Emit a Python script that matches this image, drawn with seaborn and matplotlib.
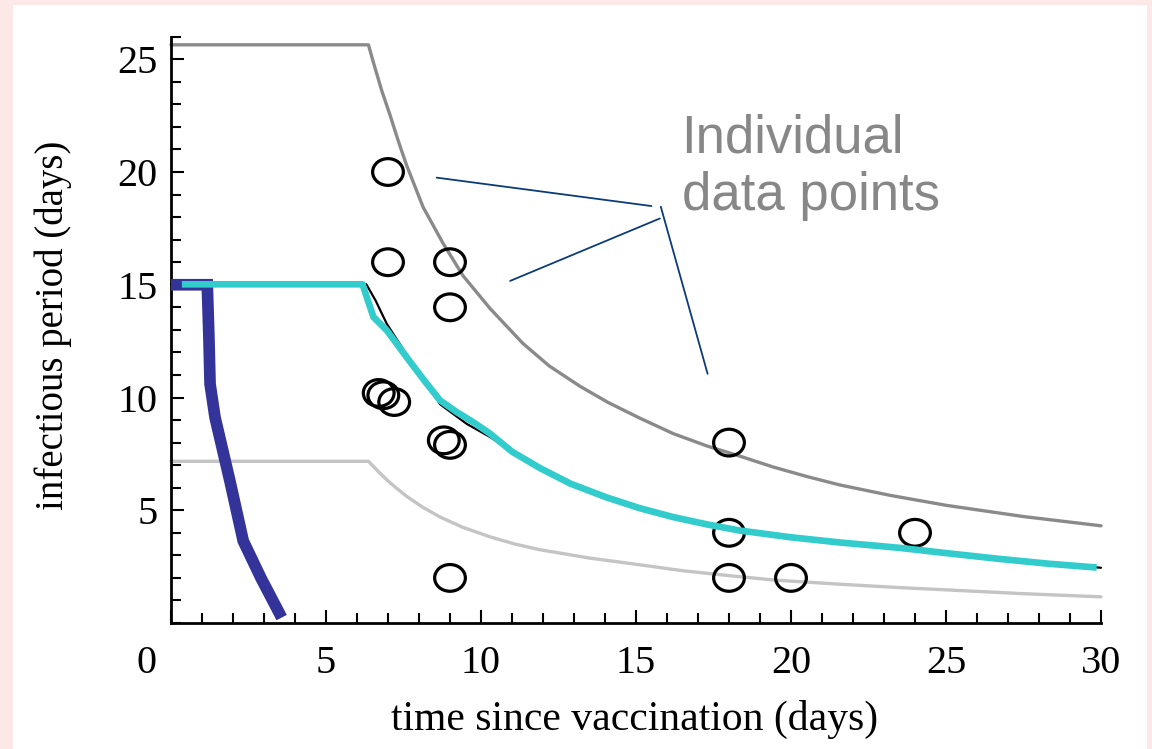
import matplotlib
matplotlib.use("Agg")
import numpy as np
import pandas as pd
import matplotlib.pyplot as plt
import seaborn as sns
from matplotlib.path import Path
from matplotlib.markers import MarkerStyle
from matplotlib.patches import Rectangle
from matplotlib.transforms import offset_copy

# ---------------- data ----------------
upper_x = [0.0, 6.37, 6.52, 6.8, 7.06, 7.35, 7.6, 8.13, 8.77, 9.42, 10.29, 11.35, 12.2, 13.19, 14.1,
           15.13, 16.2, 17.29, 18.35, 19.42, 20.5, 21.58, 23.2, 25.0, 27.5, 30.0]
upper_y = [25.64, 25.64, 24.9, 23.6, 22.55, 21.3, 20.3, 18.45, 16.85, 15.4, 13.95, 12.4, 11.4, 10.5, 9.78,
           9.08, 8.4, 7.85, 7.4, 6.92, 6.5, 6.12, 5.66, 5.22, 4.72, 4.31]

lower_x = [0.0, 6.37, 6.7, 7.0, 7.3, 7.6, 8.1, 8.68, 9.4, 10.29, 11.1, 11.9, 13.5, 15.13, 16.5,
           18.0, 19.5, 21.58, 23.5, 25.0, 27.5, 30.0]
lower_y = [7.17, 7.17, 6.7, 6.3, 5.95, 5.62, 5.15, 4.7, 4.25, 3.82, 3.5, 3.25, 2.88, 2.58, 2.32,
           2.1, 1.9, 1.72, 1.57, 1.47, 1.3, 1.16]

median_x = [0.0, 6.3, 6.6, 6.96, 7.6, 8.2, 8.68, 9.54, 10.29, 11.04, 11.9, 12.9, 14.05, 15.1, 16.19,
            17.3, 18.35, 20.0, 21.58, 23.52, 25.0, 26.74, 28.3, 30.0]
median_y = [15.02, 15.02, 14.3, 13.27, 11.9, 10.75, 9.7, 8.83, 8.25, 7.57, 6.82, 6.13, 5.55, 5.08, 4.68,
            4.35, 4.08, 3.78, 3.55, 3.31, 3.08, 2.84, 2.63, 2.45]

teal_x = [0.35, 6.18, 6.35, 6.53, 6.96, 7.6, 8.2, 8.68, 9.22, 9.7, 10.29, 11.0, 11.9, 12.9, 14.05,
          15.1, 16.19, 17.3, 18.35, 20.0, 21.58, 23.52, 25.0, 26.74, 28.3, 29.86]
teal_y = [15.02, 15.02, 14.3, 13.57, 12.98, 11.79, 10.7, 9.87, 9.35, 8.95, 8.4, 7.6, 6.87, 6.17, 5.57,
          5.1, 4.7, 4.37, 4.1, 3.8, 3.57, 3.33, 3.1, 2.84, 2.63, 2.46]

blue_x = [0.0, 1.17, 1.22, 1.26, 1.42, 1.9, 2.33, 2.9, 3.57]
blue_y = [15.0, 15.0, 12.8, 10.6, 9.12, 6.3, 3.64, 2.0, 0.24]

pts_x = [7, 7, 9, 9, 6.7, 6.85, 7.2, 8.8, 9.0, 9, 18, 18, 18, 20, 24]
pts_y = [20, 16, 16, 14, 10.2, 10.1, 9.8, 8.1, 7.9, 2, 8, 4, 2, 2, 4]

x_major = [0, 5, 10, 15, 20, 25, 30]
x_labels = ["", "5", "10", "15", "20", "25", "30"]
y_major = [5, 10, 15, 20, 25]
y_labels = ["5", "10", "15", "20", "25"]

note_text = "Individual\ndata points"
note_xy = (16.47, 22.6)
pointer_from = [(15.5, 18.49), (15.77, 17.94), (15.8, 18.46)]
pointer_to = [(8.57, 19.75), (10.94, 15.17), (17.31, 11.05)]

# ---------------- styling ----------------
sns.set_theme(style="white")
plt.rcParams["font.family"] = ["Liberation Serif", "DejaVu Serif"]

W, H = 1152, 749
fig = plt.figure(figsize=(W / 100, H / 100), dpi=100, facecolor="#fde8e8")
fig.patches.append(Rectangle((13 / W, 0), (1147 - 13) / W, (H - 5) / H,
                             transform=fig.transFigure, facecolor="white",
                             edgecolor="none", zorder=-10))
ax = fig.add_axes([171 / W, 1 - 623 / H, 930 / W, (623 - 36.7) / H])
ax.set_facecolor("none")

# data points (open, slightly elliptical circles)
circ = Path.unit_circle()
ell = Path(circ.vertices * np.array([1.0, 0.87]), circ.codes)
sns.scatterplot(x=pts_x, y=pts_y, ax=ax, marker=MarkerStyle(ell), s=490,
                facecolor="none", edgecolor="black", linewidth=2.3, zorder=3)

line_kw = dict(ax=ax, sort=False, estimator=None, clip_on=False)
sns.lineplot(x=lower_x, y=lower_y, color="#c4c4c4", linewidth=2.4, zorder=2, **line_kw)
sns.lineplot(x=upper_x, y=upper_y, color="#8a8a8a", linewidth=2.4, zorder=2, **line_kw)
sns.lineplot(x=median_x, y=median_y, color="black", linewidth=1.6, zorder=4, **line_kw)
sns.lineplot(x=blue_x, y=blue_y, color="#333399", linewidth=8.4, zorder=5,
             solid_capstyle="butt", solid_joinstyle="miter", **line_kw)
sns.lineplot(x=teal_x, y=teal_y, color="#33cccc", linewidth=4.8, zorder=6,
             solid_capstyle="butt", **line_kw)

# annotation
for a, b in zip(pointer_from, pointer_to):
    ax.annotate("", xy=b, xytext=a,
                arrowprops=dict(arrowstyle="-", color="#0b3c78", lw=1.3,
                                shrinkA=0, shrinkB=0), zorder=7)
ax.text(note_xy[0], note_xy[1], note_text, ha="left", va="top",
        fontsize=38, color="#878787", family=["Liberation Sans", "DejaVu Sans"],
        linespacing=1.2, zorder=7)

# axes
ax.set_xlim(0, 30)
ax.set_ylim(0, 26)
ax.set_xticks(x_major)
ax.set_xticklabels(x_labels)
ax.set_xticks(range(0, 31), minor=True)
ax.set_yticks(y_major)
ax.set_yticklabels(y_labels)
ax.set_yticks(range(0, 27), minor=True)
ax.tick_params(which="both", direction="in", top=False, right=False,
               bottom=True, left=True, color="black", width=1.5)
ax.tick_params(which="major", length=9.5)
ax.tick_params(which="minor", length=7)
ax.tick_params(axis="x", which="major", pad=16, labelsize=29, labelcolor="black")
ax.tick_params(axis="y", which="major", pad=9.5, labelsize=29, labelcolor="black")
# the "0" label sits left of its tick in the reference
ax.text(0, 0, "0", transform=offset_copy(ax.get_xaxis_transform(), fig=fig, x=-24, y=-22, units="dots"),
        ha="center", va="top", fontsize=29, color="black")

for s in ["top", "right"]:
    ax.spines[s].set_visible(False)
for s in ["left", "bottom"]:
    ax.spines[s].set_color("black")
    ax.spines[s].set_linewidth(2.0)

ax.set_xlabel("time since vaccination (days)", fontsize=30, color="black")
ax.set_ylabel("infectious period (days)", fontsize=28, color="black")
ax.xaxis.set_label_coords(0.498, -0.131)
ax.yaxis.set_label_coords(-0.106, 0.508)

fig.savefig("out.png", dpi=100, facecolor=fig.get_facecolor())
